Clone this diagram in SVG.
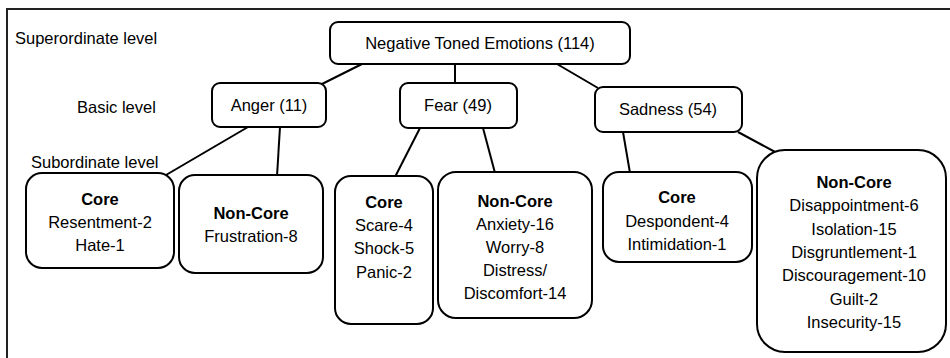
<svg xmlns="http://www.w3.org/2000/svg" width="950" height="358" viewBox="0 0 950 358">
<style>
  text { font-family: "Liberation Sans", Arial, sans-serif; font-size: 16.5px; fill: #000; }
  .c { text-anchor: middle; }
  .b { font-weight: bold; }
  .box { fill: #fff; stroke: #000; stroke-width: 2; }
  .ln { stroke: #000; stroke-width: 2; fill: none; }
</style>
<rect x="0" y="0" width="950" height="358" fill="#fff"/>
<path d="M7,358 V9 H950" fill="none" stroke="#222" stroke-width="2"/>

<text x="15" y="44">Superordinate level</text>
<text x="77" y="113">Basic level</text>
<text x="31" y="168">Subordinate level</text>

<g id="connectors">
  <line class="ln" x1="362" y1="64" x2="322" y2="84"/>
  <line class="ln" x1="455" y1="64" x2="455" y2="84"/>
  <line class="ln" x1="557" y1="64" x2="598" y2="88"/>
  <line class="ln" x1="248" y1="127" x2="166" y2="175"/>
  <line class="ln" x1="280" y1="127" x2="277" y2="176"/>
  <line class="ln" x1="420" y1="128" x2="395" y2="177"/>
  <line class="ln" x1="483" y1="128" x2="495" y2="173"/>
  <line class="ln" x1="623" y1="132" x2="630" y2="173"/>
  <line class="ln" x1="738" y1="132" x2="777" y2="153"/>
</g>

<g id="n-negative">
  <rect class="box" x="330" y="22" width="300" height="42" rx="8"/>
  <text class="c" x="480" y="49">Negative Toned Emotions (114)</text>
</g>
<g id="n-anger">
  <rect class="box" x="212" y="83" width="114" height="44" rx="8"/>
  <text class="c" x="269" y="111">Anger (11)</text>
</g>
<g id="n-fear">
  <rect class="box" x="400" y="83" width="117" height="45" rx="8"/>
  <text class="c" x="458" y="111">Fear (49)</text>
</g>
<g id="n-sadness">
  <rect class="box" x="595" y="87" width="147" height="45" rx="8"/>
  <text class="c" x="668" y="115">Sadness (54)</text>
</g>

<g id="n-anger-core">
  <rect class="box" x="26" y="173" width="148" height="95" rx="16"/>
  <text class="c b" x="100" y="205">Core</text>
  <text class="c" x="100" y="228">Resentment-2</text>
  <text class="c" x="100" y="251">Hate-1</text>
</g>
<g id="n-anger-noncore">
  <rect class="box" x="179" y="175" width="144" height="98" rx="16"/>
  <text class="c b" x="251" y="219">Non-Core</text>
  <text class="c" x="251" y="242">Frustration-8</text>
</g>
<g id="n-fear-core">
  <rect class="box" x="335" y="176" width="98" height="148" rx="16"/>
  <text class="c b" x="384" y="208">Core</text>
  <text class="c" x="384" y="231">Scare-4</text>
  <text class="c" x="384" y="254">Shock-5</text>
  <text class="c" x="384" y="278">Panic-2</text>
</g>
<g id="n-fear-noncore">
  <rect class="box" x="438" y="172" width="154" height="146" rx="18"/>
  <text class="c b" x="515" y="207">Non-Core</text>
  <text class="c" x="515" y="230">Anxiety-16</text>
  <text class="c" x="515" y="253">Worry-8</text>
  <text class="c" x="515" y="276">Distress/</text>
  <text class="c" x="515" y="299">Discomfort-14</text>
</g>
<g id="n-sadness-core">
  <rect class="box" x="603" y="172" width="149" height="90" rx="16"/>
  <text class="c b" x="677" y="203">Core</text>
  <text class="c" x="677" y="227">Despondent-4</text>
  <text class="c" x="677" y="250">Intimidation-1</text>
</g>
<g id="n-sadness-noncore">
  <rect class="box" x="757" y="150" width="189" height="202" rx="28"/>
  <text class="c b" x="854" y="188">Non-Core</text>
  <text class="c" x="854" y="211">Disappointment-6</text>
  <text class="c" x="854" y="235">Isolation-15</text>
  <text class="c" x="854" y="258">Disgruntlement-1</text>
  <text class="c" x="854" y="281">Discouragement-10</text>
  <text class="c" x="854" y="305">Guilt-2</text>
  <text class="c" x="854" y="328">Insecurity-15</text>
</g>
</svg>
